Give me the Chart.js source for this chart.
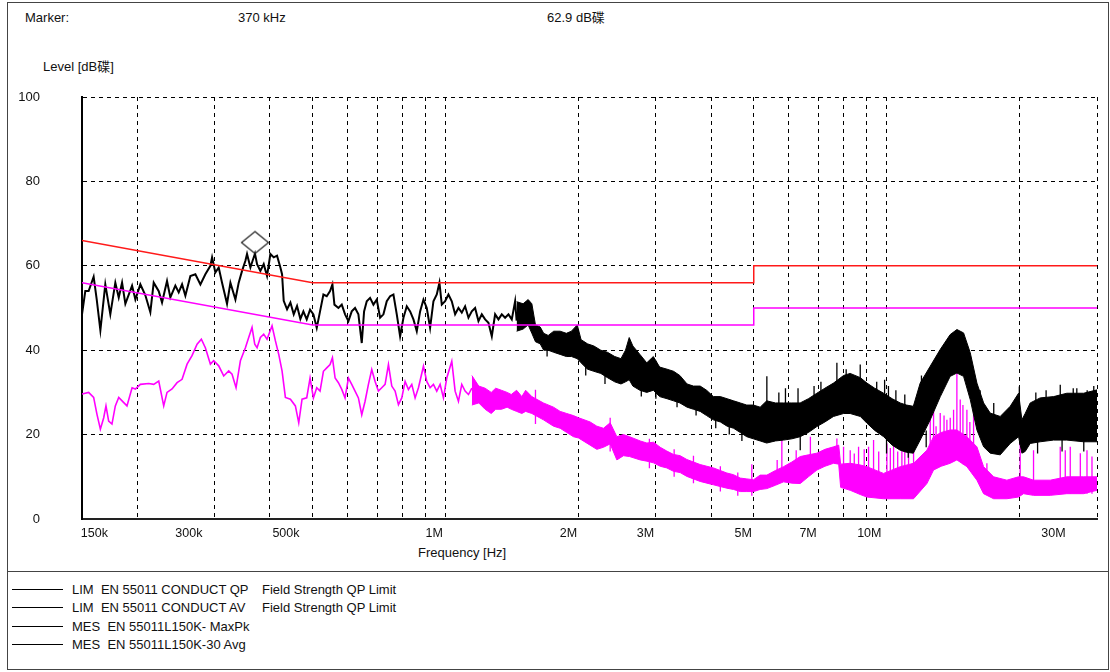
<!DOCTYPE html>
<html>
<head>
<meta charset="utf-8">
<script src="https://cdn.jsdelivr.net/npm/chart.js@4.4.0/dist/chart.umd.min.js"></script>
<style>
  html, body { margin: 0; padding: 0; background: #fff; }
  body {
    width: 1110px; height: 672px; position: relative; overflow: hidden;
    font-family: "Liberation Sans", Arial, "Noto Sans CJK SC", sans-serif;
    font-size: 13px; color: #111;
  }
  .frame { position: absolute; left: 7px; top: 2px; width: 1102px; height: 668px; border: 1px solid #444; box-sizing: border-box; }
  .sep { position: absolute; left: 7px; top: 571px; width: 1102px; height: 0; border-top: 1px solid #444; }
  .txt { position: absolute; white-space: pre; line-height: 13px; }
  #chart-box { position: absolute; left: 8px; top: 80px; width: 1100px; height: 490px; }
  .leg-line { position: absolute; left: 12px; width: 51px; height: 0; border-top: 1.5px solid #000; }
</style>
</head>
<body>
<div class="frame"></div>
<div class="sep"></div>

<div class="txt" style="left:25px; top:11px;">Marker:</div>
<div class="txt" style="left:238px; top:11px;">370 kHz</div>
<div class="txt" style="left:547px; top:11px;">62.9 dB碟</div>
<div class="txt" style="left:43px; top:60px;">Level [dB碟]</div>
<div class="txt" style="left:418px; top:546px;">Frequency [Hz]</div>

<div id="chart-box"><canvas id="emc-chart" width="1100" height="490"></canvas></div>

<div class="leg-line" style="top:589px;"></div>
<div class="leg-line" style="top:607px;"></div>
<div class="leg-line" style="top:626px;"></div>
<div class="leg-line" style="top:644px;"></div>
<div class="txt" style="left:72px; top:583px;">LIM  EN 55011 CONDUCT QP</div>
<div class="txt" style="left:262px; top:583px;">Field Strength QP Limit</div>
<div class="txt" style="left:72px; top:601px;">LIM  EN 55011 CONDUCT AV</div>
<div class="txt" style="left:262px; top:601px;">Field Strength QP Limit</div>
<div class="txt" style="left:72px; top:620px;">MES  EN 55011L150K- MaxPk</div>
<div class="txt" style="left:72px; top:638px;">MES  EN 55011L150K-30 Avg</div>

<script>
(function () {
  'use strict';

  // --- axis (frequencies in kHz) ---
  var X_MIN = 150;
  var X_MAX = 30000;
  var GRID_KHZ = [200, 300, 400, 500, 600, 700, 800, 900, 1000,
    2000, 3000, 4000, 5000, 6000, 7000, 8000, 9000, 10000, 20000, 30000];
  var X_LABELS = ['150k', '300k', '500k', '1M', '2M', '3M', '5M', '7M', '10M', '30M'];
  var X_LABEL_KHZ = [160, 262, 435, 943, 1900, 2840, 4730, 6640, 9140, 23900];

  // --- limits [kHz, dB] ---
  var QP_LIMIT = [[150, 66], [500, 56], [5000, 56], [5000, 60], [30000, 60]];
  var AV_LIMIT = [[150, 56], [500, 46], [5000, 46], [5000, 50], [30000, 50]];

  // --- marker ---
  var MARKER = [370, 62.9];

  // --- MaxPk trace: single line part [kHz, dB] ---
  var MAXPK_LINE = [[150,48.5],[152.6,54],[155.3,54],[159.4,57.4],[162,52],[165.1,44.7],[169.4,55.6],[173.9,48.5],
    [178.5,56],[181.7,52.5],[184.9,56],[188.1,51],[194.8,55.3],[198.2,52],[203.4,55.6],[208.8,53],[214.3,49],
    [218.1,56],[223.9,54],[227.8,51.3],[233.8,56.4],[237.9,52.5],[244.2,55.3],[248.5,53.7],[252.9,55.6],[257.3,52.9],
    [264.1,57.6],[271.1,58],[278.3,55.6],[285.6,58],[293.2,60],[295.8,62],[300.9,58.4],[306.2,59.6],[311.6,56],
    [319.8,51],[325.5,56],[334.1,52],[339.9,56],[345.9,58.8],[352,61.2],[355,62.8],[361.3,59.6],[370,62.9],
    [374.1,60.4],[380.6,58.8],[387.3,60.4],[394.1,57.6],[401,62.8],[408.1,62],[415.2,62.4],[422.5,59.6],[426.2,58],
    [429.9,51.7],[437.5,49.7],[445.2,51.3],[453,48.5],[460.9,50.5],[469,47.4],[476.4,49.2],[484.8,47.3],[493.3,49.6],
    [502,48.5],[510.8,45.3],[519.7,49.2],[528.9,53.2],[538.2,52.8],[547.6,54],[554.4,55.6],[560.2,50.8],[572,50],
    [582.1,50.8],[592.2,48.5],[602.6,46.9],[613.2,49.2],[623.9,50],[634.9,48.5],[646.1,41.7],[654,49.2],[663.2,51.6],
    [674.8,52.4],[686.7,50.8],[698.7,52],[711,47.7],[723.5,48.5],[736.2,51.6],[749.2,52.8],[762.3,53.2],[775.7,48.5],
    [789.3,43.3],[803.2,47.7],[817.3,50.4],[831.7,49.2],[846.2,47.3],[861.1,44.5],[876.2,49.2],[891.6,52],[907.2,50],
    [923.1,45.3],[939.3,51.6],[955.8,53.2],[969.2,56],[981.1,50.8],[998.3,51.6],[1015.9,53.2],[1033.7,51.6],
    [1051.9,48.5],[1070.3,50],[1089.1,48.9],[1108.2,50.4],[1127.7,47.7],[1147.5,49.2],[1167.6,50],[1188.1,46.9],
    [1209,48.5],[1230.2,47.3],[1251.8,46.5],[1273.8,43.3],[1296.1,48.5],[1318.9,47.3],[1342,48.5],[1365.6,47.7],
    [1389.5,48.5],[1413.9,47.3],[1438.7,51.6],[1450,47]];

  // --- MaxPk trace: dense part [kHz, low, high] ---
  var MAXPK_BAND = [[1450,44.5,51.5],[1500,45,51],[1540,46,52],[1570,44,51],[1600,42,46],[1640,41.5,45.5],
    [1670,40,44],[1710,40,43.5],[1760,39.5,44.5],[1820,39,44.5],[1880,38.5,44],[1930,38.5,44.5],[1990,38,46],
    [2030,37,42.5],[2100,35.5,41.5],[2170,35,41],[2250,34.5,40],[2330,33.5,39.5],[2420,32.5,38.5],[2500,32,38],
    [2560,32.5,40],[2610,33,43],[2660,31.5,41],[2760,30.5,39],[2860,30,37],[2960,30.5,38.5],[3060,29,36],
    [3180,28.5,35.5],[3290,28,35],[3400,27.5,34],[3530,26.5,32],[3650,26,31.5],[3780,25.5,31.5],[3910,24.5,30.5],
    [4050,23.5,29],[4200,23,29],[4350,22,28.5],[4500,21.5,28],[4660,20.5,27.5],[4820,19.5,27],[4990,19,27],
    [5170,18.5,26.5],[5350,18,28],[5600,18.5,27.5],[5840,18.7,27.5],[6100,19,27.5],[6370,19.5,27.5],[6650,20.5,28.5],
    [6950,21.9,29.8],[7250,23,31],[7580,24.3,32.2],[7990,25,34],[8270,25,34.5],[8720,24.3,33.5],[9030,22.7,32.2],
    [9400,21,31],[9850,19.5,29.8],[10300,17.5,28.5],[10740,16.3,27.5],[11100,15.8,27],[11500,15.6,26.7],
    [11920,18.7,32.2],[12560,23.5,36.2],[13240,29,40.2],[13940,33.8,43.7],[14440,34.6,44.9],[14950,33.8,44.1],
    [15480,28.3,39.4],[16030,21.1,32.2],[16600,17.1,27.5],[17180,15.6,25.1],[18100,15.2,24.3],[19070,17.9,26.7],
    [19920,19.5,29.8],[20270,15.6,23.5],[20620,16,25],[21170,17.9,27.5],[22300,18.3,28.7],[23920,18.7,29],
    [25630,18.7,29.8],[27970,18.3,29.8],[30000,18.3,30.6]];
  var MAXPK_SPIKES = [[1700,38.5,42],[2080,34,40],[2300,32,38],[2780,29,38],[3000,28.5,37.5],[3350,26.5,34],
    [3700,24.5,31],[4100,21.5,28],[4400,20,26],[4700,18.5,25],
    [5354,26,33.8],[5700,24,30],[5900,25,31],[6300,24,31],[6373,16.3,22],[6850,26,31.5],[7100,27,32.5],
    [7717,30,37],[8100,30,35.5],[8717,31,36.6],[9500,26,32.5],[9900,27,33],[10000,15.5,20],[10100,24,31.5],
    [10500,23,30.5],[11000,22,29.5],[11200,14.5,18],[12000,26,34],[12300,17,21],[16300,24,30.5],[17500,20,27.5],
    [20000,25,31.4],[21800,22,30],[22000,15.5,19],[23000,23,30.5],[24763,27,31.8],[25000,16,19],[26500,24,31],
    [27000,27,31],[28000,16,19],[28500,24,30.5],[29500,24,31.5]];

  // --- Avg trace: single line part [kHz, dB] ---
  var AVG_LINE = [[150,29.6],[155.3,30],[159.4,28.8],[162.2,24.8],[165.1,21.3],[168,24],[170,26.8],[172.4,23.2],
    [175.4,22.5],[178.5,26.8],[181.7,28.8],[184.9,28],[189.7,26.8],[194.8,31.1],[198.2,30.8],[203.4,31.9],[212.5,32.1],
    [218.1,31.9],[223.9,32.7],[229.8,26.8],[233.8,30],[240,30.8],[246.4,32.3],[252.9,33.1],[259.6,36.7],[266.4,38.7],
    [273.5,41.4],[279.7,42.6],[285.6,40.6],[293.2,36.7],[298.3,37.5],[306.2,36.3],[314.3,33.9],[322.6,35.1],
    [328.3,34.3],[335.2,31.1],[342.9,37.5],[352,40.6],[358.1,43],[364.4,45.4],[369.6,41.4],[374.1,40.6],[380.6,43],
    [387.3,43.8],[394.1,42.6],[404.5,45.8],[411.7,42.2],[418.9,39],[426.2,35.1],[433.7,28.8],[445.2,28.4],
    [456.9,26.8],[465,22.8],[473.1,28.4],[484.8,28.7],[493.3,33.4],[502,28.7],[510.8,31.1],[519.7,30.3],[528.9,35],
    [538.2,35.8],[547.6,36.6],[554.4,38.2],[562.2,33.4],[572,32.3],[582.1,30.7],[592.2,28.7],[602.6,33.4],
    [613.2,31.9],[623.9,30.3],[634.9,28.7],[646.1,24.7],[657.4,27.9],[669,31.9],[680.7,35.4],[692.7,32.6],
    [704.8,30.3],[717.2,31.1],[729.8,31.9],[742.7,36.6],[755.7,31.5],[769,30.3],[782.5,27.1],[796.2,28.7],
    [810.2,32.6],[824.4,30.7],[838.9,31.9],[853.6,28.7],[868.6,31.1],[891.6,36.2],[907.2,32.6],[923.1,31.1],
    [939.3,31.9],[955.8,30.3],[972.6,31.9],[989.7,28.7],[1007,33.4],[1033.7,37.4],[1051.9,30.3],[1070.3,27.9],
    [1089.1,31.9],[1108.2,30.3],[1127.7,29.5],[1148,31]];

  // --- Avg trace: dense part [kHz, low, high] ---
  var AVG_BAND = [[1148,27,34],[1190,27.5,31.5],[1230,26,31],[1270,25,30],[1300,26,31],[1340,26,30.5],
    [1380,26.5,30],[1410,26,29.5],[1450,25.5,30.5],[1490,25,29],[1520,25.5,30.5],[1570,25,29],[1668,23.5,27.5],
    [1758,22,26.5],[1820,21.5,25.5],[1884,20.5,25],[1951,19.5,24.5],[2003,19.2,24],[2128,17.5,23],[2204,16.5,22],
    [2282,17,21.5],[2363,17.8,22.8],[2447,14,19.5],[2533,15,20],[2614,14.8,19.5],[2764,14,18.5],[2862,13.7,18],
    [2963,13.3,18.2],[3068,12.5,17],[3176,12.1,16.1],[3289,11.3,15.3],[3405,11,15],[3526,10.1,14.1],[3651,9.5,13.5],
    [3780,8.9,12.9],[3914,8.5,12.5],[4053,8.1,12.1],[4196,7.7,11.5],[4345,7.3,10.9],[4499,7,10.5],[4658,6.5,9.7],
    [4823,6.5,9.5],[4994,6.5,9.3],[5170,7,10.4],[5354,7.2,10.4],[5600,8,11.5],[5841,8.8,12.4],[6100,8.5,13.5],
    [6373,8.4,14.8],[6650,10,15.2],[6952,11.6,15.6],[7250,12.5,16.5],[7583,13.2,17.1],[7790,13,17.5],[7870,7.5,13],
    [8273,6.8,13.2],[8717,5.8,12.8],[9025,5.2,12.4],[9846,4.8,10.8],[10741,4.8,12.4],[11515,4.8,13.2],
    [12345,8.4,16.3],[12782,11.6,19.5],[13300,12.5,20.5],[13944,13.2,21.1],[14437,14,21.1],[15212,12.4,19.5],
    [16028,9.2,17.1],[16595,6,12.4],[17487,4.8,10],[18741,4.8,9.2],[19916,5.2,10],[20443,6,10],[21540,5.6,9.2],
    [23500,5.6,9.2],[25634,6,10],[27967,6,10],[30000,6.8,10]];
  var AVG_SPIKES = [[1600,22.5,30.6],[2363,16,24],[2900,12,19],[3300,10,16.5],[3650,8.5,15],[4200,6.5,12.5],
    [4600,5.5,11],[4950,5.5,13],
    [5650,9,14],[5790,9,19],[6240,9,16.3],[6720,11,19.5],[7717,14,19.1],[7990,9,17.1],
    [8273,8,16.3],[8450,7,15.5],[8641,7,17.1],[8900,6,16.5],[9104,6,17.1],[9345,6,18.7],[9600,6,16],[10019,6,17.9],
    [10200,6,16.8],[10374,6,17.5],[10600,6,16],[10835,6,17.1],[11000,6,16.5],[11218,6,18.3],[11515,6,17.5],
    [12562,10,24.3],[12782,12,25.9],[12950,12,22],[13235,13,25.1],[13500,13,24.5],[13704,14,23.5],[13944,14,24],
    [14189,14,25.9],[14437,14,34.6],[14692,14,28.3],[14900,13,27],[15212,13,25.9],[15450,12,23],[15751,12,25.5],
    [16886,7,13.2],[20090,7,17.9],[21540,6,16.3],[24763,6,17.1],[25419,6,16.3],[26091,6,17.1],[27499,6,15.6],
    [28473,6,16.3],[29225,6,14.8]];

  var FONT = '"Liberation Sans", Arial, sans-serif';
  var BLACK = '#000000';
  var MAGENTA = '#ff00ff';
  var RED = '#ff1a1a';

  function toPoints(list, k) {
    return list.map(function (p) { return { x: p[0], y: p[k || 1] }; });
  }

  function toSpikes(list) {
    var out = [];
    list.forEach(function (s) {
      out.push({ x: s[0], y: s[1] }, { x: s[0], y: s[2] }, { x: s[0], y: null });
    });
    return out;
  }

  function makeDiamond() {
    var c = document.createElement('canvas');
    c.width = 30; c.height = 48;
    var g = c.getContext('2d');
    g.strokeStyle = '#222';
    g.lineWidth = 1.2;
    g.beginPath();
    g.moveTo(15, 2); g.lineTo(28.5, 13); g.lineTo(15, 24); g.lineTo(1.5, 13);
    g.closePath();
    g.stroke();
    return c;
  }

  function lineSet(data, color, width) {
    return {
      data: data, borderColor: color, backgroundColor: color, borderWidth: width,
      pointRadius: 0, fill: false, tension: 0, spanGaps: false
    };
  }

  var datasets = [];
  // first dataset is drawn on top
  datasets.push({
    data: [{ x: MARKER[0], y: MARKER[1] }], showLine: false,
    pointStyle: makeDiamond(), pointRadius: 12, borderColor: '#222', backgroundColor: 'transparent'
  });
  datasets.push(lineSet(toPoints(QP_LIMIT), RED, 1.5));
  datasets.push(lineSet(toPoints(AV_LIMIT), MAGENTA, 1.5));
  datasets.push(lineSet(toPoints(MAXPK_LINE), BLACK, 2));
  datasets.push(lineSet(toPoints(MAXPK_BAND, 1), BLACK, 1));           // 4
  var pkHigh = lineSet(toPoints(MAXPK_BAND, 2), BLACK, 1);
  pkHigh.fill = 4;
  datasets.push(pkHigh);                                               // 5
  datasets.push(lineSet(toSpikes(MAXPK_SPIKES), BLACK, 1.3));
  datasets.push(lineSet(toPoints(AVG_LINE), MAGENTA, 1.6));
  datasets.push(lineSet(toPoints(AVG_BAND, 1), MAGENTA, 1));           // 8
  var avHigh = lineSet(toPoints(AVG_BAND, 2), MAGENTA, 1);
  avHigh.fill = 8;
  datasets.push(avHigh);                                               // 9
  datasets.push(lineSet(toSpikes(AVG_SPIKES), MAGENTA, 1.3));

  var dashedGrid = { color: '#000', lineWidth: 1, drawTicks: false, tickLength: 0 };

  new Chart(document.getElementById('emc-chart'), {
    type: 'line',
    data: { datasets: datasets },
    options: {
      responsive: false,
      animation: false,
      events: [],
      layout: { autoPadding: false, padding: { left: 0, right: 11, top: 17, bottom: 22 } },
      plugins: { legend: { display: false }, tooltip: { enabled: false } },
      scales: {
        x: {
          type: 'logarithmic', position: 'bottom', min: X_MIN, max: X_MAX,
          afterBuildTicks: function (s) { s.ticks = GRID_KHZ.map(function (v) { return { value: v }; }); },
          ticks: { display: false },
          grid: dashedGrid,
          border: { display: true, color: '#222', width: 2, dash: [4, 4] }
        },
        xl: {
          type: 'logarithmic', position: 'bottom', min: X_MIN, max: X_MAX,
          afterBuildTicks: function (s) { s.ticks = X_LABEL_KHZ.map(function (v) { return { value: v }; }); },
          ticks: {
            autoSkip: false, maxRotation: 0, minRotation: 0, padding: 7, color: '#111',
            font: { family: FONT, size: 12.5 },
            callback: function (v, i) { return X_LABELS[i]; }
          },
          grid: { display: false, drawTicks: false },
          border: { display: false }
        },
        y: {
          min: 0, max: 100,
          ticks: { stepSize: 20, padding: 42, color: '#111', font: { family: FONT, size: 13 } },
          grid: dashedGrid,
          border: { display: true, color: '#000', width: 2, dash: [4, 4] },
          afterFit: function (s) {
            s.width = 74;
            // the wide label gap must not push the plot box down
            s.paddingTop = 8;
            s.paddingBottom = 8;
          }
        }
      }
    }
  });
})();
</script>
</body>
</html>
